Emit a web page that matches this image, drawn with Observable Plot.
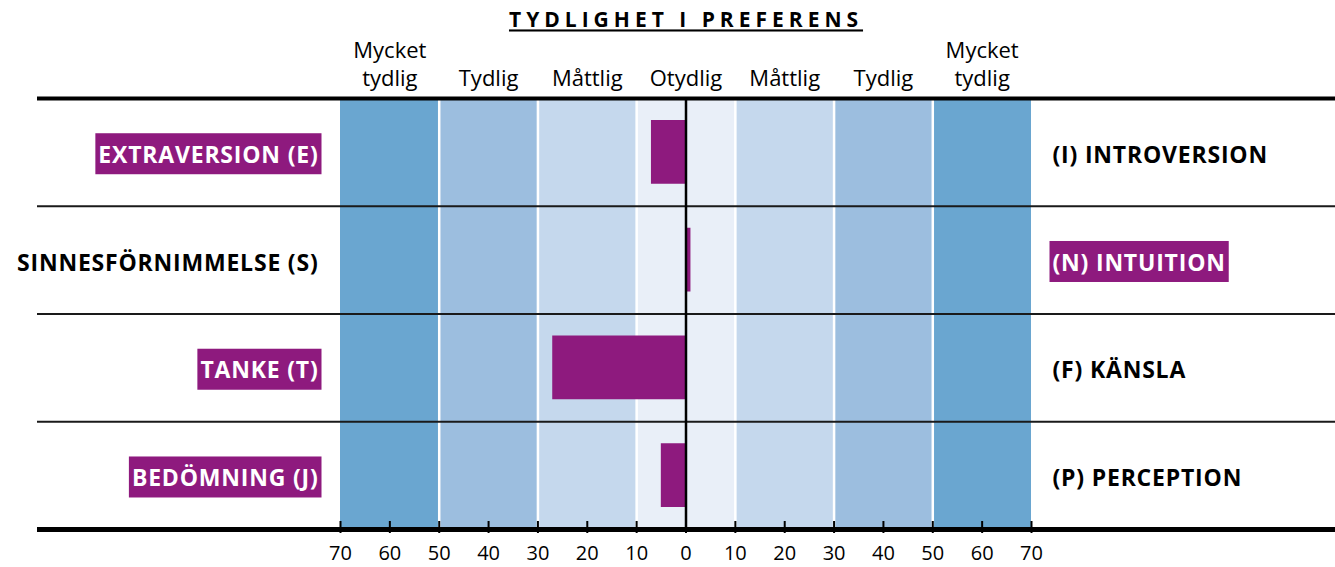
<!DOCTYPE html>
<html><head><meta charset="utf-8">
<script src="https://cdn.jsdelivr.net/npm/d3@7"></script>
<script src="https://cdn.jsdelivr.net/npm/@observablehq/plot@0.6"></script>
<style>
body{margin:0;background:#fff;}
#chart svg{font-family:"Open Sans",sans-serif;display:block;}
</style></head><body><div id="chart"></div>
<script>
// ---- data ----
const title = "TYDLIGHET I PREFERENS";
const leftLabels = ["EXTRAVERSION (E)", "SINNESFÖRNIMMELSE (S)", "TANKE (T)", "BEDÖMNING (J)"];
const rightLabels = ["(I) INTROVERSION", "(N) INTUITION", "(F) KÄNSLA", "(P) PERCEPTION"];
const scores = [-7, 1, -27, -5]; // negative = left preference, positive = right preference
const bandStarts = [-70, -50, -30, -10, 10, 30, 50];
const bandEnds = [-50, -30, -10, 10, 30, 50, 70];
const bandLevels = [3, 2, 1, 0, 1, 2, 3];
const bandNames = ["Mycket\ntydlig", "Tydlig", "Måttlig", "Otydlig", "Måttlig", "Tydlig", "Mycket\ntydlig"];
const bandDividers = [-50, -30, -10, 10, 30, 50];
const tickValues = [-70, -60, -50, -40, -30, -20, -10, 0, 10, 20, 30, 40, 50, 60, 70];

// ---- derived tables ----
const rows = leftLabels.map((l, i) => ({left: l, right: rightLabels[i], score: scores[i], row: i}));
const bands = bandStarts.map((s, i) => ({x1: s, x2: bandEnds[i], level: bandLevels[i], name: bandNames[i]}));
const rowLines = d3.range(1, rows.length);
const highlighted = new Set(rows.map(d => d.score < 0 ? d.left : d.score > 0 ? d.right : null).filter(Boolean));

const PURPLE = "#8e1a7e";
const LABEL_SIZE = 23;

const plot = Plot.plot({
  width: 1335,
  height: 567,
  marginTop: 98,
  marginBottom: 38,
  marginLeft: 340,
  marginRight: 304,
  x: {domain: [-70, 70], axis: null},
  y: {domain: [0, rows.length], reverse: true, axis: null},
  color: {type: "ordinal", domain: [0, 1, 2, 3], range: ["#e9eff8", "#c5d8ed", "#9cbedf", "#6aa6d0"]},
  marks: [
    Plot.rect(bands, {x1: "x1", x2: "x2", fill: "level"}),
    Plot.ruleX(bandDividers, {x: d => d, stroke: "white", strokeWidth: 2.5}),
    Plot.rectX(rows, {x1: 0, x2: "score", y1: "row", y2: d => d.row + 1, insetTop: 22, insetBottom: 22, fill: PURPLE}),
    Plot.ruleY(rowLines, {y: d => d, stroke: "#1a1a1a", strokeWidth: 2, insetLeft: -303, insetRight: -304}),
    Plot.ruleY([0], {y: d => d, stroke: "#000", strokeWidth: 4, insetLeft: -303, insetRight: -304}),
    Plot.ruleY([rows.length], {y: d => d, stroke: "#000", strokeWidth: 5, insetLeft: -303, insetRight: -304}),
    Plot.ruleX([0], {x: d => d, stroke: "#000", strokeWidth: 2.5}),
    Plot.ruleX(tickValues, {x: d => d, y1: rows.length, y2: rows.length, insetTop: -8, insetBottom: -4, stroke: "#000", strokeWidth: 2}),
    Plot.text(tickValues, {x: d => d, text: d => String(Math.abs(d)), frameAnchor: "bottom", lineAnchor: "top", dy: 16, fontSize: 20, fill: "#000"}),
    Plot.text(bands, {x: d => (d.x1 + d.x2) / 2, text: "name", frameAnchor: "top", lineAnchor: "bottom", dy: -13, fontSize: 22, lineHeight: 1.23, fill: "#000"}),
    Plot.text([title], {x: 0, text: d => d, frameAnchor: "top", lineAnchor: "top", dy: -86, fontSize: 21, fontWeight: "bold", fill: "#000"}),
    // left labels
    Plot.text(rows, {y: d => d.row + 0.5, text: "left", frameAnchor: "left", textAnchor: "end", dx: -22, dy: 3, fontSize: LABEL_SIZE, fontWeight: "bold", fill: d => highlighted.has(d.left) ? "white" : "black"}),
    // right labels
    Plot.text(rows, {y: d => d.row + 0.5, text: "right", frameAnchor: "right", textAnchor: "start", dx: 21, dy: 3, fontSize: LABEL_SIZE, fontWeight: "bold", fill: d => highlighted.has(d.right) ? "white" : "black"})
  ]
});

document.getElementById("chart").append(plot);

// text styling + purple label backgrounds behind highlighted preference labels
const allLabels = new Set([...leftLabels, ...rightLabels]);
plot.querySelectorAll("text").forEach(t => {
  const s = t.textContent;
  if (s === title) {
    t.style.letterSpacing = "5px";
    t.style.textDecoration = "underline";
    t.style.textDecorationThickness = "2px";
    t.style.textUnderlineOffset = "3px";
  }
  if (allLabels.has(s)) {
    t.style.letterSpacing = "0.8px";
  }
});
plot.querySelectorAll("text").forEach(t => {
  if (!highlighted.has(t.textContent)) return;
  const b = t.getBBox();
  const r = document.createElementNS("http://www.w3.org/2000/svg", "rect");
  const cy = b.y + b.height / 2;
  r.setAttribute("x", b.x - 3);
  r.setAttribute("width", b.width + 6);
  r.setAttribute("y", cy - 20.5);
  r.setAttribute("height", 41);
  r.setAttribute("fill", PURPLE);
  const tr = t.getAttribute("transform");
  if (tr) r.setAttribute("transform", tr);
  t.parentNode.insertBefore(r, t);
});
</script></body></html>
